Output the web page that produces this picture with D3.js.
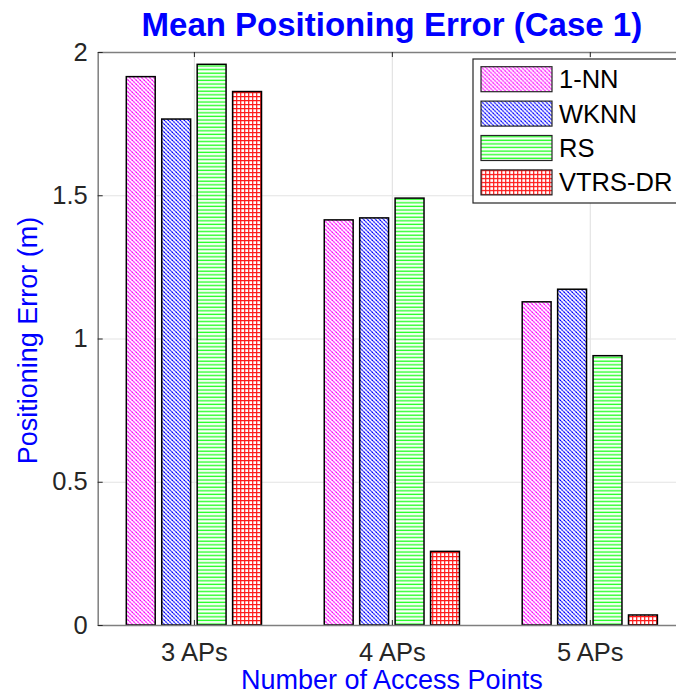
<!DOCTYPE html>
<html>
<head>
<meta charset="utf-8">
<script src="https://cdn.jsdelivr.net/npm/d3@7"></script>
<style>
  body { margin: 0; background: #fff; }
  svg { display: block; font-family: "Liberation Sans", Arial, sans-serif; }
</style>
</head>
<body>
<svg id="chart"></svg>
<script>
// values
const categories = ["3 APs", "4 APs", "5 APs"];
const seriesNames = ["1-NN", "WKNN", "RS", "VTRS-DR"];
const oneNN = [1.914, 1.414, 1.128];
const wknn = [1.766, 1.421, 1.172];
const rs = [1.957, 1.490, 0.940];
const vtrsDR = [1.862, 0.257, 0.035];
const yTicks = [0, 0.5, 1, 1.5, 2];

const config = {
    width: 676,
    height: 697,
    plot: {left: 97.7, right: 686, top: 52, bottom: 625},
    barPitch: 0.179,
    barWidth: 0.146,
    textColor: "#262626",
    axisColor: "#7f7f7f",
    gridColor: "#e3e3e3"
};

const series = [oneNN, wknn, rs, vtrsDR];
const patternIds = ["pat-nn", "pat-wknn", "pat-rs", "pat-vtrs"];

const svg = d3.select("#chart")
    .attr("width", config.width)
    .attr("height", config.height);

// hatch fills, roughly like the matlab hatchfill look
const defs = svg.append("defs");

const diag = (id, color) => {
    const p = defs.append("pattern").attr("id", id)
        .attr("patternUnits", "userSpaceOnUse")
        .attr("width", 4).attr("height", 4);
    p.append("rect").attr("width", 4).attr("height", 4).attr("fill", "#fff");
    p.append("path").attr("d", "M-1,-1L5,5M-1,3L1,5M3,-1L5,1")
        .attr("stroke", color).attr("stroke-width", 1.1).attr("stroke-opacity", 0.75);
    p.append("path").attr("d", "M5,-1L-1,5M1,-1L-1,1M5,3L3,5")
        .attr("stroke", color).attr("stroke-width", 0.7).attr("stroke-opacity", 0.35);
    p.append("rect").attr("x", 0).attr("y", 0).attr("width", 1).attr("height", 1)
        .attr("fill", color);
};
diag("pat-nn", "#ff00ff");
diag("pat-wknn", "#0000ff");

const rsPat = defs.append("pattern").attr("id", "pat-rs")
    .attr("patternUnits", "userSpaceOnUse")
    .attr("width", 4).attr("height", 3.6);
rsPat.append("rect").attr("width", 4).attr("height", 3.6).attr("fill", "#fff");
rsPat.append("path").attr("d", "M0,1.2H4")
    .attr("stroke", "#00ff00").attr("stroke-width", 1.4).attr("stroke-opacity", 0.85);

const vtPat = defs.append("pattern").attr("id", "pat-vtrs")
    .attr("patternUnits", "userSpaceOnUse")
    .attr("width", 4).attr("height", 4);
vtPat.append("rect").attr("width", 4).attr("height", 4).attr("fill", "#fff");
vtPat.append("path").attr("d", "M0,0.7H4M0.7,0V4")
    .attr("stroke", "#ff0000").attr("stroke-width", 1.2).attr("stroke-opacity", 0.9);

const x = d3.scaleLinear()
    .domain([0.514, 3.486])
    .range([config.plot.left, config.plot.right]);

const y = d3.scaleLinear()
    .domain([0, 2])
    .range([config.plot.bottom, config.plot.top]);

const plotW = config.plot.right - config.plot.left;
const plotH = config.plot.bottom - config.plot.top;

// grid
svg.append("g")
    .attr("transform", `translate(0,${config.plot.bottom})`)
    .call(d3.axisBottom(x).tickValues([1, 2, 3]).tickSize(-plotH).tickFormat(""))
    .call(g => g.select(".domain").remove())
    .call(g => g.selectAll("line").attr("stroke", config.gridColor).attr("stroke-width", 1.2));

svg.append("g")
    .attr("transform", `translate(${config.plot.left},0)`)
    .call(d3.axisLeft(y).tickValues(yTicks).tickSize(-plotW).tickFormat(""))
    .call(g => g.select(".domain").remove())
    .call(g => g.selectAll("line").attr("stroke", config.gridColor).attr("stroke-width", 1.2));

// bars
svg.append("g")
    .selectAll("g")
    .data(series)
    .join("g")
    .attr("fill", (d, i) => `url(#${patternIds[i]})`)
    .selectAll("rect")
    .data((d, i) => d.map((v, j) => ({v: v, cat: j + 1, s: i})))
    .join("rect")
    .attr("x", d => x(d.cat + (d.s - 1.5) * config.barPitch - config.barWidth / 2))
    .attr("width", d => x(config.barWidth) - x(0))
    .attr("y", d => y(d.v))
    .attr("height", d => y(0) - y(d.v))
    .attr("stroke", "#000")
    .attr("stroke-width", 1.5);

// axes, ticks pointing in
const styleAxis = g => {
    g.select(".domain").attr("stroke", config.axisColor).attr("stroke-width", 1.5);
    g.selectAll(".tick line").attr("stroke", config.textColor).attr("stroke-width", 1);
    g.selectAll(".tick text").attr("fill", config.textColor).attr("font-size", 25.5)
        .attr("font-family", "Liberation Sans, Arial, sans-serif");
};

svg.append("g")
    .attr("transform", `translate(0,${config.plot.bottom})`)
    .call(d3.axisBottom(x).tickValues([1, 2, 3]).tickSize(-5).tickSizeOuter(0).tickPadding(18)
        .tickFormat(d => categories[d - 1]))
    .call(styleAxis);

svg.append("g")
    .attr("transform", `translate(0,${config.plot.top})`)
    .call(d3.axisTop(x).tickValues([1, 2, 3]).tickSize(-5).tickSizeOuter(0).tickFormat(""))
    .call(styleAxis);

svg.append("g")
    .attr("transform", `translate(${config.plot.left},0)`)
    .call(d3.axisLeft(y).tickValues(yTicks).tickSize(-5).tickSizeOuter(0).tickPadding(10)
        .tickFormat(d3.format("")))
    .call(styleAxis);

svg.append("g")
    .attr("transform", `translate(${config.plot.right},0)`)
    .call(d3.axisRight(y).tickValues(yTicks).tickSize(-5).tickSizeOuter(0).tickFormat(""))
    .call(styleAxis);

// titles
svg.append("text")
    .attr("x", (config.plot.left + config.plot.right) / 2)
    .attr("y", 36)
    .attr("text-anchor", "middle")
    .attr("font-size", 33)
    .attr("font-weight", "bold")
    .attr("fill", "#0000ff")
    .text("Mean Positioning Error (Case 1)");

svg.append("text")
    .attr("x", (config.plot.left + config.plot.right) / 2)
    .attr("y", 689)
    .attr("text-anchor", "middle")
    .attr("font-size", 27)
    .attr("fill", "#0000ff")
    .text("Number of Access Points");

svg.append("text")
    .attr("transform", `translate(37,${(config.plot.top + config.plot.bottom) / 2 + 2}) rotate(-90)`)
    .attr("text-anchor", "middle")
    .attr("font-size", 27)
    .attr("fill", "#0000ff")
    .text("Positioning Error (m)");

// legend
const legend = svg.append("g").attr("transform", "translate(473,59)");
legend.append("rect")
    .attr("width", 220).attr("height", 144)
    .attr("fill", "#fff").attr("stroke", config.textColor).attr("stroke-width", 1.2);

const row = legend.selectAll("g.row")
    .data(seriesNames)
    .join("g")
    .attr("class", "row")
    .attr("transform", (d, i) => `translate(8,${7.7 + i * 34.4})`);

row.append("rect")
    .attr("width", 71).attr("height", 25)
    .attr("fill", (d, i) => `url(#${patternIds[i]})`)
    .attr("stroke", config.textColor).attr("stroke-width", 1.2);

row.append("text")
    .attr("x", 78).attr("y", 21.5)
    .attr("font-size", 25.5)
    .attr("fill", "#000")
    .text(d => d);
</script>
</body>
</html>
